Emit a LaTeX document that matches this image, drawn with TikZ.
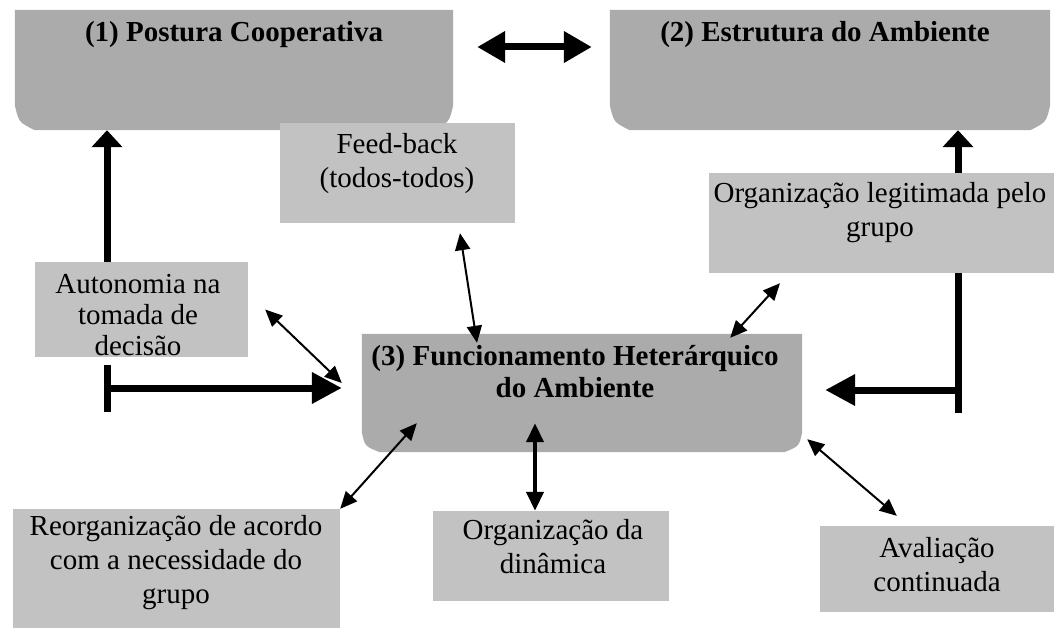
\documentclass[tikz,border=0pt]{standalone}
\usepackage{fontspec}
\setmainfont{Liberation Serif}
\usetikzlibrary{arrows.meta}
\begin{document}
\begin{tikzpicture}[x=1pt,y=-1pt,
  bigbox/.style={inner sep=0pt, draw=none},
  bigfill/.style={fill=black!33},
  smallbox/.style={inner sep=0pt, draw=none, fill=black!24},
  txt/.style={inner sep=0pt, align=center, font=\fontsize{29}{34}\selectfont},
  ttl/.style={inner sep=0pt, align=center, font=\fontsize{29}{32}\selectfont\bfseries},
  thickarr/.style={line width=7pt, -{Triangle[length=30pt,width=30pt]}},
  uparr/.style={line width=7pt, -{Triangle[length=17pt,width=30pt]}},
  thickdbl/.style={line width=7pt, {Triangle[length=28pt,width=30pt]}-{Triangle[length=28pt,width=30pt]}},
  bar/.style={line width=7pt},
  thindbl/.style={line width=2pt, {Triangle[length=17pt,width=15pt]}-{Triangle[length=17pt,width=15pt]}},
  middbl/.style={line width=4pt, {Triangle[length=19pt,width=17pt]}-{Triangle[length=19pt,width=17pt]}}
]
\useasboundingbox[fill=white] (0,0) rectangle (1054,628);

% big boxes
\node[bigbox, minimum width=438pt, minimum height=120pt] (p1) at (234,70) {};
\fill[bigfill] (p1.north west) -- (p1.north east) -- ([yshift=25pt]p1.south east)
  .. controls ([xshift=-4pt,yshift=8pt]p1.south east) .. ([xshift=-20pt]p1.south east)
  -- ([xshift=20pt]p1.south west) .. controls ([xshift=4pt,yshift=8pt]p1.south west) .. ([yshift=25pt]p1.south west) -- cycle;
\node[bigbox, minimum width=440pt, minimum height=120pt] (p2) at (830,70) {};
\fill[bigfill] (p2.north west) -- (p2.north east) -- ([yshift=25pt]p2.south east)
  .. controls ([xshift=-4pt,yshift=8pt]p2.south east) .. ([xshift=-20pt]p2.south east)
  -- ([xshift=20pt]p2.south west) .. controls ([xshift=4pt,yshift=8pt]p2.south west) .. ([yshift=25pt]p2.south west) -- cycle;
\node[bigbox, minimum width=440pt, minimum height=118pt] (p3) at (582,393) {};
\fill[bigfill] (p3.north west) -- (p3.north east) -- ([yshift=20pt]p3.south east)
  .. controls ([xshift=-3pt,yshift=6pt]p3.south east) .. ([xshift=-18pt]p3.south east)
  -- ([xshift=18pt]p3.south west) .. controls ([xshift=3pt,yshift=6pt]p3.south west) .. ([yshift=20pt]p3.south west) -- cycle;

% small boxes
\node[smallbox, minimum width=235pt, minimum height=100pt] (fb) at (397.5,173) {};
\node[smallbox, minimum width=213pt, minimum height=95pt] (au) at (141.5,309.5) {};
\node[smallbox, minimum width=350pt, minimum height=100pt] (ol) at (884,223) {};
\node[smallbox, minimum width=327pt, minimum height=121pt] (re) at (176.5,569.5) {};
\node[smallbox, minimum width=236pt, minimum height=90pt] (od) at (551,556) {};
\node[smallbox, minimum width=238pt, minimum height=86pt] (av) at (939,569) {};

% texts
\node[ttl] (t1) at (234,35) {(1) Postura Cooperativa};
\node[ttl] (t2) at (825,35) {(2) Estrutura do Ambiente};
\node[ttl] (t3) at (575,371.5) {(3) Funcionamento Heterárquico\\do Ambiente};
\node[txt] (tfb) at (397,164) {Feed-back\\(todos-todos)};
\node[txt, font=\fontsize{29}{31}\selectfont] (tau) at (138,315) {Autonomia na\\tomada de\\decisão};
\node[txt] (tol) at (880,213) {Organização legitimada pelo\\grupo};
\node[txt] (tre) at (176,563) {Reorganização de acordo\\com a necessidade do\\grupo};
\node[txt] (tod) at (553,547) {Organização da\\dinâmica};
\node[txt] (tav) at (937,565) {Avaliação\\continuada};

% connectors
\draw[thickdbl] ([xshift=24pt,yshift=23pt]p1.east) -- ([xshift=-18pt,yshift=23pt]p2.west);
\draw[uparr] ([xshift=-34.5pt]au.north) -- ([xshift=-34.5pt]au.north |- p1.south);
\draw[uparr] ([xshift=74pt]ol.north) -- ([xshift=74pt]ol.north |- p2.south);

\coordinate (aT) at ([xshift=-34.5pt,yshift=-8pt]au.south);
\coordinate (aB) at ([xshift=-34.5pt,yshift=-55pt]au.south);
\coordinate (aTip) at ([xshift=-20pt,yshift=5pt]p3.west);
\draw[bar] (aT) -- (aB);
\draw[thickarr] (aT |- aTip) -- (aTip);

\coordinate (oT) at ([xshift=74pt]ol.south);
\coordinate (oB) at ([xshift=74pt,yshift=-140pt]ol.south);
\coordinate (oTip) at ([xshift=23pt,yshift=3pt]p3.east);
\draw[bar] (oT) -- (oB);
\draw[thickarr] (oB |- oTip) -- (oTip);

\draw[thindbl] ([xshift=62.5pt,yshift=-10pt]fb.south) -- ([xshift=-105pt,yshift=-9pt]p3.north);
\draw[thindbl] ([xshift=17pt]au.east) -- ([xshift=-20pt,yshift=10pt]p3.west);
\draw[thindbl] ([xshift=-104pt,yshift=-10pt]ol.south) -- ([xshift=-72pt,yshift=-4pt]p3.north east);
\draw[thindbl] ([xshift=55pt,yshift=29pt]p3.south west) -- (re.north east);
\draw[middbl] ([xshift=-47pt,yshift=29pt]p3.south) -- ([xshift=-16pt]od.north);
\draw[thindbl] ([xshift=5pt,yshift=13pt]p3.south east) -- ([xshift=77pt,yshift=10pt]av.north west);
\end{tikzpicture}
\end{document}
